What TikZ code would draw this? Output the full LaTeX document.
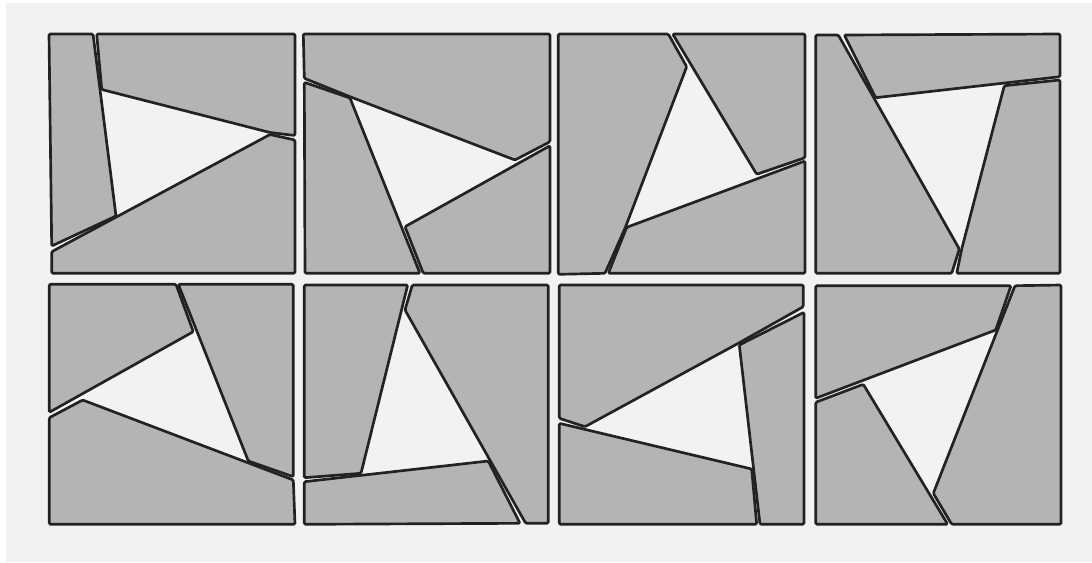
\documentclass[tikz,border=0pt]{standalone}
\usepackage{tikz}
\usepackage{xcolor}
\definecolor{panelgray}{RGB}{242,242,242}
\definecolor{piecegray}{RGB}{180,180,180}
\definecolor{edgeblack}{RGB}{34,34,34}
\tikzset{
  panel/.style={fill=panelgray,draw=none},
  piece/.style={fill=piecegray,draw=edgeblack,line width=1.9pt,rounded corners=0.9pt,line join=round}
}
\begin{document}
\begin{tikzpicture}[x=0.025cm,y=-0.025cm]
  \useasboundingbox (0,0) rectangle (1092,562);
  \fill[panel] (6,3) rectangle (1092,562);
  % row 1
  \draw[piece] (49,34) -- (93,34) -- (116,216) -- (51.7,246) -- cycle;
  \draw[piece] (96.7,34) -- (295,34) -- (295,135.5) -- (270,132.5) -- (101.7,89.5) -- cycle;
  \draw[piece] (51.7,251.7) -- (270,134.5) -- (295,140) -- (295,273.3) -- (51.7,273.3) -- cycle;
  \draw[piece] (303.3,34) -- (550,34) -- (550,141.7) -- (515,160) -- (350,96.7) -- (304.3,78.3) -- cycle;
  \draw[piece] (304.3,82.3) -- (350,98) -- (420,273.3) -- (305,273.3) -- cycle;
  \draw[piece] (550,145.7) -- (550,273.3) -- (423.3,273.3) -- (405,226.7) -- cycle;
  \draw[piece] (558.3,34) -- (668.3,34) -- (686.7,66.7) -- (625,228.3) -- (605,273.3) -- (558.3,274.3) -- cycle;
  \draw[piece] (672.7,34) -- (805,34) -- (805,157.7) -- (756.7,174.3) -- cycle;
  \draw[piece] (626.7,227.3) -- (805,161) -- (805,273.3) -- (608.3,273.3) -- cycle;
  \draw[piece] (815.7,35) -- (838.3,35) -- (959.3,249) -- (951.7,273.3) -- (815.7,273.3) -- cycle;
  \draw[piece] (844.3,35) -- (1060,34) -- (1060,76.7) -- (875.7,97.7) -- cycle;
  \draw[piece] (1004.3,85.7) -- (1060,80) -- (1060,273.3) -- (956.7,273.3) -- (961.7,249) -- cycle;
  % row 2
  \draw[piece] (49.3,284.3) -- (176,284.3) -- (193.3,331.7) -- (49.3,412.3) -- cycle;
  \draw[piece] (178.3,284.3) -- (293.3,284.3) -- (293.3,476.7) -- (248.3,461) -- cycle;
  \draw[piece] (49.3,417.7) -- (82.7,400) -- (293.3,480) -- (295,524.3) -- (49.3,524.3) -- cycle;
  \draw[piece] (304.3,285) -- (407.7,285) -- (361,473.3) -- (304.3,477.7) -- cycle;
  \draw[piece] (412.3,285) -- (548.3,285) -- (548.3,523.3) -- (525.7,523.3) -- (405,310) -- cycle;
  \draw[piece] (304.3,481.7) -- (488.3,461) -- (520,523.3) -- (304.3,524.3) -- cycle;
  \draw[piece] (559.3,285) -- (803.3,285) -- (803.3,306.7) -- (738.3,343.3) -- (585,426.7) -- (559.3,418.3) -- cycle;
  \draw[piece] (804,312.3) -- (804,524.3) -- (760,524.3) -- (739.3,345) -- cycle;
  \draw[piece] (559.3,423.3) -- (751.7,469) -- (756.7,524.3) -- (559.3,524.3) -- cycle;
  \draw[piece] (815.7,285.7) -- (1011,285.7) -- (995.7,330) -- (815.7,398.3) -- cycle;
  \draw[piece] (815.7,402.3) -- (863.3,384.3) -- (947.7,524.3) -- (815.7,524.3) -- cycle;
  \draw[piece] (1015,285.7) -- (1061,285) -- (1061,524.3) -- (951.7,524.3) -- (933.3,493.3) -- cycle;
\end{tikzpicture}
\end{document}
